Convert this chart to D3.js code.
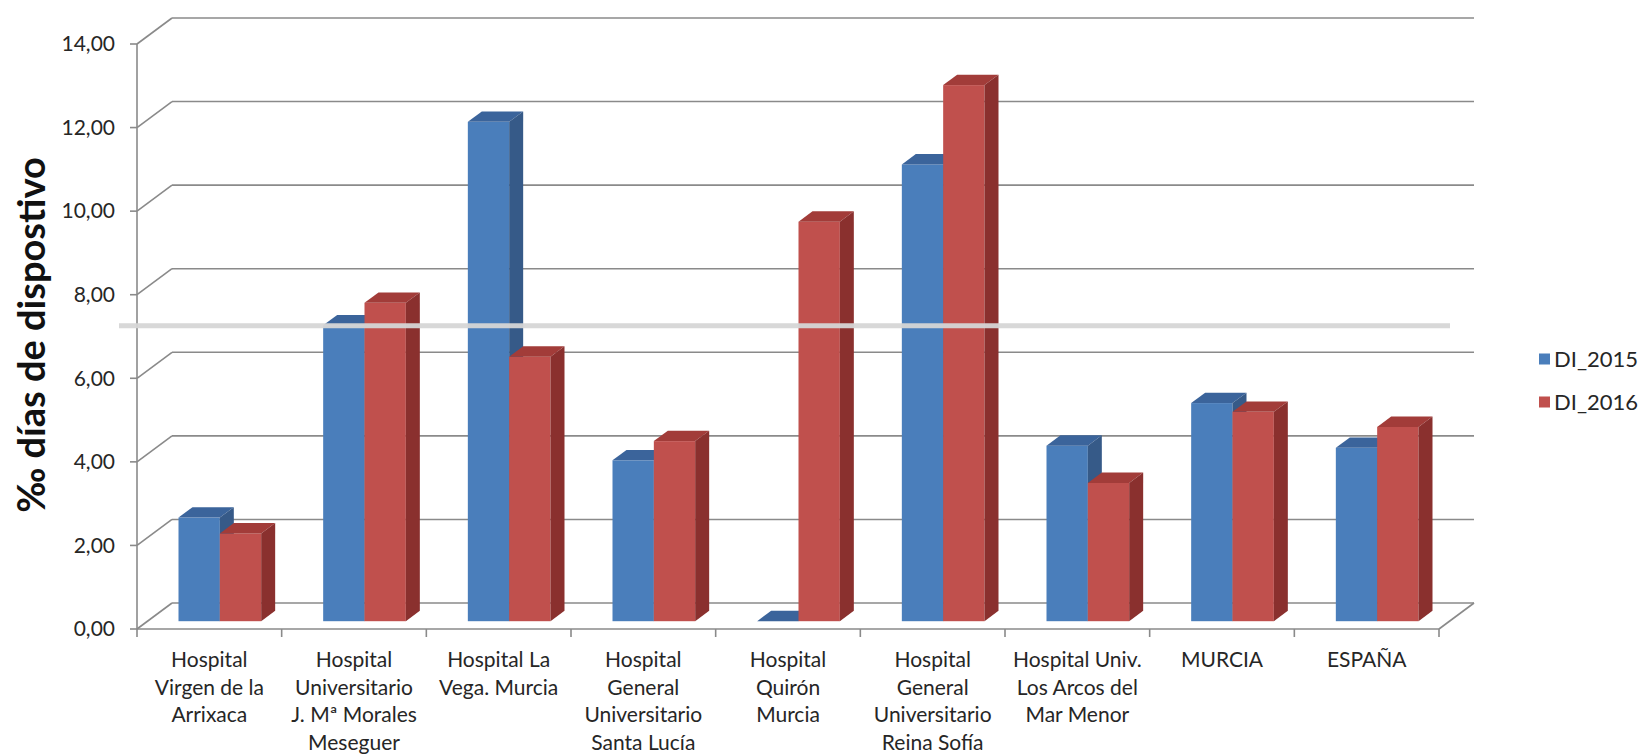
<!DOCTYPE html>
<html>
<head>
<meta charset="utf-8">
<script src="https://cdn.jsdelivr.net/npm/d3@7"></script>
<style>
  html, body { margin: 0; padding: 0; background: #fff; }
  svg { display: block; font-family: Lato, "Open Sans", sans-serif; }
</style>
</head>
<body>
<div id="chart"></div>
<script>
// chart data
const categories = [
  ["Hospital", "Virgen de la", "Arrixaca"],
  ["Hospital", "Universitario", "J. Mª Morales", "Meseguer"],
  ["Hospital La", "Vega. Murcia"],
  ["Hospital", "General", "Universitario", "Santa Lucía"],
  ["Hospital", "Quirón", "Murcia"],
  ["Hospital", "General", "Universitario", "Reina Sofía"],
  ["Hospital Univ.", "Los Arcos del", "Mar Menor"],
  ["MURCIA"],
  ["ESPAÑA"]
];
const series = ["DI_2015", "DI_2016"];
const di2015 = [2.48, 7.08, 11.95, 3.85, 0, 10.93, 4.20, 5.22, 4.15];
const di2016 = [2.10, 7.62, 6.33, 4.31, 9.56, 12.83, 3.31, 5.01, 4.65];
const yTicks = [0, 2, 4, 6, 8, 10, 12, 14];
const refValue = 7.26; // the light grey line drawn across the chart
const yTitle = "‰ días de dispostivo";

// layout
const width = 1640, height = 756;
const plotLeft = 137, plotRight = 1439, plotBottom = 629, plotTop = 44;
const DX = 35, DY = 26; // depth of the 3d box

const colors = {
  DI_2015: { front: "#4a7ebb", top: "#3b649b", side: "#365a88" },
  DI_2016: { front: "#c0504d", top: "#a23c39", side: "#8a302e" }
};

const svg = d3.select("#chart").append("svg")
  .attr("width", width)
  .attr("height", height);

const y = d3.scaleLinear().domain([0, 14]).range([plotBottom, plotTop]);
const x0 = d3.scaleBand().domain(d3.range(categories.length)).range([plotLeft, plotRight]).padding(0);
const x1 = d3.scaleBand().domain(series).range([0, x0.bandwidth()]).paddingInner(0).paddingOuter(0.75);

const fmt = d3.formatLocale({ decimal: ",", thousands: ".", grouping: [3], currency: ["", "€"] }).format(".2f");
const gridColor = "#8a8a8a";

// back wall + left wall grid
const grid = svg.append("g").attr("stroke", gridColor).attr("stroke-width", 1.6).attr("fill", "none");
grid.selectAll(".back").data(yTicks).join("line")
  .attr("x1", plotLeft + DX).attr("x2", plotRight + DX)
  .attr("y1", d => y(d) - DY).attr("y2", d => y(d) - DY);
grid.selectAll(".side").data(yTicks).join("line")
  .attr("x1", plotLeft).attr("x2", plotLeft + DX)
  .attr("y1", d => y(d)).attr("y2", d => y(d) - DY);
grid.selectAll(".tick").data(yTicks).join("line")
  .attr("x1", plotLeft - 7).attr("x2", plotLeft)
  .attr("y1", d => y(d)).attr("y2", d => y(d));
// vertical axis line
grid.append("line").attr("x1", plotLeft).attr("x2", plotLeft).attr("y1", y(0)).attr("y2", y(14));
// floor
grid.append("line").attr("x1", plotLeft).attr("x2", plotRight).attr("y1", y(0)).attr("y2", y(0));
grid.append("line").attr("x1", plotRight).attr("x2", plotRight + DX).attr("y1", y(0)).attr("y2", y(0) - DY);
// category ticks
const bounds = d3.range(categories.length + 1).map(i => plotLeft + i * x0.step());
grid.selectAll(".ctick").data(bounds).join("line")
  .attr("x1", d => d).attr("x2", d => d)
  .attr("y1", y(0)).attr("y2", y(0) + 8);

// y tick labels
svg.append("g").selectAll("text").data(yTicks).join("text")
  .attr("x", plotLeft - 22)
  .attr("y", d => y(d))
  .attr("dy", "0.35em")
  .attr("text-anchor", "end")
  .attr("font-size", 21)
  .attr("fill", "#262626")
  .text(d => fmt(d));

// y title
svg.append("text")
  .attr("transform", "translate(45,335) rotate(-90)")
  .attr("text-anchor", "middle")
  .attr("font-size", 38)
  .attr("font-weight", "bold")
  .attr("fill", "#111")
  .text(yTitle);

// bars as 3d boxes
const fx = 0.3 * DX, fy = 0.3 * DY;
const bdx = 0.4 * DX, bdy = 0.4 * DY;
const bars = [];
categories.forEach((c, i) => {
  bars.push({ i, s: "DI_2015", v: di2015[i] });
  bars.push({ i, s: "DI_2016", v: di2016[i] });
});

const g = svg.append("g").selectAll("g").data(bars).join("g");
g.each(function(d) {
  const el = d3.select(this);
  const w = x1.bandwidth();
  const xa = x0(d.i) + x1(d.s) + fx;
  const yb = y(0) - fy;
  const yt = y(d.v) - fy;
  const col = colors[d.s];
  el.append("rect")
    .attr("x", xa).attr("y", yt)
    .attr("width", w).attr("height", yb - yt)
    .attr("fill", col.front);
  el.append("path")
    .attr("d", `M${xa},${yt}L${xa + bdx},${yt - bdy}L${xa + w + bdx},${yt - bdy}L${xa + w},${yt}Z`)
    .attr("fill", col.top);
  el.append("path")
    .attr("d", `M${xa + w},${yt}L${xa + w + bdx},${yt - bdy}L${xa + w + bdx},${yb - bdy}L${xa + w},${yb}Z`)
    .attr("fill", col.side);
});

// reference line
svg.append("line")
  .attr("x1", 119).attr("x2", 1450)
  .attr("y1", y(refValue)).attr("y2", y(refValue))
  .attr("stroke", "#d6d6d6")
  .attr("stroke-width", 5)
  .attr("opacity", 0.95);

// category labels
svg.append("g").selectAll("text").data(categories).join("text")
  .attr("text-anchor", "middle")
  .attr("font-size", 21)
  .attr("fill", "#262626")
  .each(function(lines, i) {
    const cx = x0(i) + x0.bandwidth() / 2;
    d3.select(this).selectAll("tspan").data(lines).join("tspan")
      .attr("x", cx)
      .attr("y", (l, k) => 667 + k * 27.5)
      .text(l => l);
  });

// legend
const legend = svg.append("g").selectAll("g").data(series).join("g")
  .attr("transform", (d, i) => `translate(1539,${359 + i * 43})`);
legend.append("rect")
  .attr("x", 0).attr("y", -5.5).attr("width", 11).attr("height", 11)
  .attr("fill", d => colors[d].front);
legend.append("text")
  .attr("x", 15).attr("dy", "0.35em")
  .attr("font-size", 22)
  .attr("fill", "#262626")
  .text(d => d);
</script>
</body>
</html>
